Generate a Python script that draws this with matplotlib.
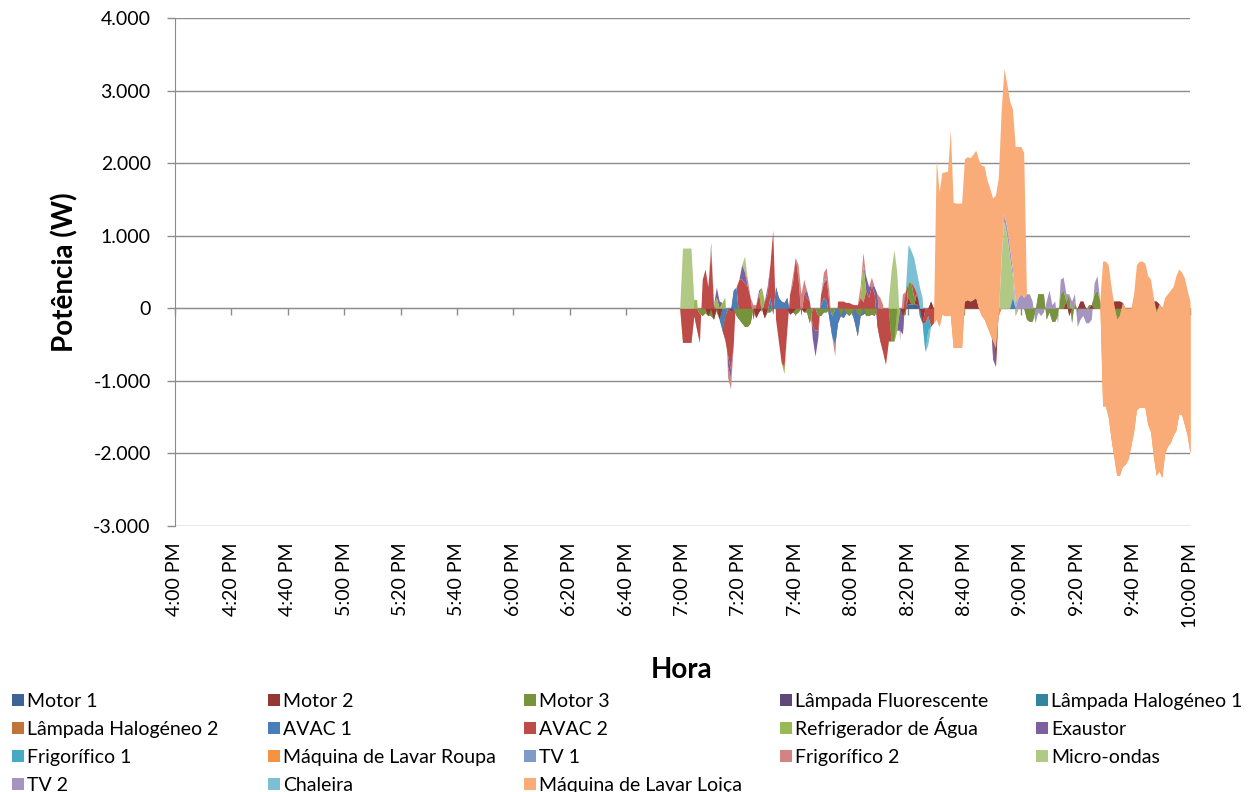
import numpy as np
import matplotlib.pyplot as plt
from matplotlib.patches import Rectangle
from matplotlib.ticker import FuncFormatter

plt.rcParams['font.family'] = ['Lato', 'DejaVu Sans']

# series names (stacking order) and Excel colours
nomes = ['Motor 1', 'Motor 2', 'Motor 3', 'Lâmpada Fluorescente', 'Lâmpada Halogéneo 1',
         'Lâmpada Halogéneo 2', 'AVAC 1', 'AVAC 2', 'Refrigerador de Água', 'Exaustor',
         'Frigorífico 1', 'Máquina de Lavar Roupa', 'TV 1', 'Frigorífico 2', 'Micro-ondas',
         'TV 2', 'Chaleira', 'Máquina de Lavar Loiça']
cores = ['#3C6496', '#953735', '#77933C', '#5F497A', '#31859C', '#C0743A',
         '#4A7EBB', '#BE4B48', '#98B954', '#7D60A0', '#46AAC5', '#F69240',
         '#7E9BC8', '#D38482', '#B0CA86', '#A594C0', '#7DBFD5', '#F9AC78']

# x axis: minutes since 4:00 PM, one point per minute
minutos = np.arange(0, 361)
inicio = 180  # 7:00 PM, nothing happens before this
ticks_x = list(range(0, 361, 20))
rotulos_x = ['4:00 PM', '4:20 PM', '4:40 PM', '5:00 PM', '5:20 PM', '5:40 PM', '6:00 PM',
             '6:20 PM', '6:40 PM', '7:00 PM', '7:20 PM', '7:40 PM', '8:00 PM', '8:20 PM',
             '8:40 PM', '9:00 PM', '9:20 PM', '9:40 PM', '10:00 PM']

# values in W, keyed by minutes after 7:00 PM (missing minutes are 0)
motor_1 = {80: 60, 81: 60, 82: 50, 83: 60}
motor_2 = {9: -100, 11: -150, 13: -150, 26: -130, 27: -50, 29: -130, 38: -80, 39: -50,
           43: -50, 78: -100, 80: 100, 83: 150, 85: -200, 88: 100,
           100: 100, 101: 120, 102: 100, 103: 120, 104: 150, 111: -800,
           136: 100, 137: -100, 141: 100, 142: 100, 145: 50,
           153: 100, 154: 100, 155: 100, 156: 80, 166: 100, 167: 100, 168: 100, 169: 60}
motor_3 = {6: -70, 7: -100, 8: -60, 10: -100, 19: -100, 20: -150, 21: -200, 22: -250,
           23: -250, 24: -200, 30: -50, 31: -50, 40: -80, 41: -50, 44: -50, 45: -200,
           48: -100, 49: -100, 50: -50, 51: -50, 53: -100, 56: -100, 58: -60, 59: -100,
           60: -50, 62: -80, 63: -100, 65: -100, 66: -100, 67: -80, 68: -100, 74: -450,
           75: -450, 79: -80, 80: 200, 81: 300, 82: 100,
           122: -150, 123: -180, 124: -180, 125: -50, 126: 200, 127: 200, 128: 200,
           129: -150, 130: -50, 131: -180, 132: -180, 133: -100, 134: 200, 135: 250,
           137: 300, 138: -200, 139: 100, 140: -50, 143: -30, 144: 50, 146: 200, 147: 250,
           148: 100, 153: -100, 154: -250, 155: -200, 167: -150, 168: -200}
lampada_fluor = {17: -40, 65: 40}
lampada_hal_1 = {}
lampada_hal_2 = {}
avac_1 = {14: -300, 15: -100, 18: 250, 19: 390, 31: 200, 32: -80, 33: 300, 34: 150,
          35: 100, 36: 80, 37: 150, 49: 150, 50: 200, 51: 150, 52: -150, 53: -300,
          54: -500, 55: -200, 57: -130, 61: -200, 62: -300, 64: -80, 84: -100,
          117: 150, 130: 50}
avac_2 = {0: -470, 1: -470, 2: -470, 3: -470, 4: -100, 5: -290, 6: -400, 7: 500, 8: 600,
          9: 400, 10: 900, 11: 200, 12: -50, 15: -330, 16: -650, 17: -800, 18: -750,
          20: 550, 21: 600, 22: 600, 23: 550, 24: 350, 25: -150, 26: 180, 27: 250, 28: -50,
          29: 230, 30: 250, 31: 450, 32: 1160, 33: -450, 34: -600, 35: -850, 36: -880,
          37: -450, 38: 280, 39: 400, 40: 780, 41: 450, 42: -100, 43: 250, 44: 200,
          45: 300, 46: -250, 47: -300, 48: -200, 49: 150, 50: 200, 51: 300, 52: 200,
          55: 300, 56: 200, 57: 230, 58: 140, 59: 180, 60: 110, 61: 250, 62: 430, 63: 250,
          64: 170, 65: 300, 66: 250, 67: 400, 68: 300, 69: -250, 70: -450, 71: -600,
          72: -770, 73: -450, 79: 310, 82: 150, 86: -200, 87: -100, 88: -350, 89: -200}
refrigerador = {4: 224, 5: 410, 10: 60, 12: 200, 13: 150, 14: 380, 15: 580, 28: 340,
                36: -100, 64: 500, 76: -300}
exaustor = {10: 50, 12: 140, 13: 100, 16: -150, 17: -120, 21: 200, 22: 150, 27: 50,
            30: 90, 44: 100, 46: -150, 47: -360, 48: -100, 65: 200, 66: 150, 68: 100,
            69: 450, 77: -300, 78: -250, 110: -700}
frigorifico_1 = {86: -400, 87: -200}
# hidden under the dishwasher layer, sets where its band starts
maq_roupa = {90: -150, 91: -250, 92: -80, 93: -100, 94: -100, 95: -100, 96: -540,
             97: -540, 98: -540, 99: -540, 106: -100, 107: -150, 108: -250, 109: -350,
             110: 250, 111: 250, 112: -100,
             149: -1345, 150: -1345, 151: -1500, 152: -1800, 153: -2050, 154: -2150,
             155: -2200, 156: -2260, 157: -2150, 158: -2080, 159: -1900, 160: -1700,
             161: -1400, 162: -1365, 163: -1365, 164: -1365, 165: -1600, 166: -1800,
             167: -1985, 168: -2200, 169: -2300, 170: -2330, 171: -2000, 172: -1900,
             173: -1850, 174: -1750, 175: -1680, 176: -1460, 177: -1460, 178: -1600,
             179: -1750, 180: -2000}
tv_1 = {50: 50}
frigorifico_2 = {16: -150, 17: -150, 23: 100, 25: 200, 39: 100, 41: 200, 42: 300, 43: 200,
                 50: 100, 51: 160, 52: 150, 54: -160, 63: 150, 64: 180, 67: 110, 70: 600,
                 71: 650, 78: 550}
micro_ondas = {0: 1300, 1: 1300, 2: 1300, 3: 1300, 22: 220, 73: 550, 74: 980, 75: 1260,
               76: 800, 113: 650, 114: 1200, 115: 1000, 116: 700, 117: 300, 118: -100}
tv_2 = {77: -150, 113: 50, 114: 100, 115: 120, 116: 150, 117: 100, 118: 100, 119: 150,
        120: 200, 121: 150, 122: 350, 123: 380, 124: 280, 125: -150, 126: -250, 127: -300,
        128: -250, 129: 250, 130: 250, 131: 230, 132: 280, 133: -100, 134: 200, 135: 180,
        136: 100, 138: 300, 139: 100, 140: -200, 141: -250, 142: -200, 143: -170,
        144: -250, 145: -200, 146: 150, 147: 200}
chaleira = {80: 520, 81: 440, 82: 400, 83: 290, 84: 400, 85: 350, 87: -200, 118: 100}
maq_loica = {90: 2200, 91: 1850, 92: 1950, 93: 1980, 94: 1990, 95: 2560, 96: 2000,
             97: 1990, 98: 1990, 99: 1990, 100: 1960, 101: 1970, 102: 1975, 103: 2000,
             104: 2030, 105: 2050, 106: 2070, 107: 2110, 108: 2020, 109: 2000, 110: 1970,
             111: 2110, 112: 1900, 113: 2000, 114: 2000, 115: 1980, 116: 2010, 117: 2200,
             118: 2130, 119: 2080, 120: 2030, 121: 2000,
             149: 1995, 150: 1995, 151: 2100, 152: 2100, 153: 2100, 154: 2150, 155: 2200,
             156: 2260, 157: 2150, 158: 2080, 159: 1900, 160: 1900, 161: 2000, 162: 2015,
             163: 2015, 164: 1985, 165: 2050, 166: 2100, 167: 2185, 168: 2250, 169: 2300,
             170: 2330, 171: 2150, 172: 2100, 173: 2100, 174: 2050, 175: 2130, 176: 2000,
             177: 1960, 178: 2020, 179: 2000, 180: 2100}

series = [motor_1, motor_2, motor_3, lampada_fluor, lampada_hal_1, lampada_hal_2, avac_1,
          avac_2, refrigerador, exaustor, frigorifico_1, maq_roupa, tv_1, frigorifico_2,
          micro_ondas, tv_2, chaleira, maq_loica]

valores = np.zeros((len(series), len(minutos)))
for i, s in enumerate(series):
    for m, v in s.items():
        valores[i, inicio + m] = v

# stacked area, like the Excel chart
topo = np.cumsum(valores, axis=0)
base = np.vstack([np.zeros(len(minutos)), topo[:-1]])

W, H = 1258, 792
fig = plt.figure(figsize=(W / 100, H / 100), dpi=100)
ax = fig.add_axes([175 / W, 1 - 526 / H, 1015 / W, 508 / H])

ordem = list(range(len(series) - 2, -1, -1)) + [len(series) - 1]
for i in ordem:
    ax.fill_between(minutos, base[i], topo[i], color=cores[i], lw=0, zorder=2)

cinza = '#8C8C8C'
ax.set_xlim(0, 360)
ax.set_ylim(-3000, 4000)
ax.set_yticks(range(-3000, 4001, 1000))
ax.yaxis.set_major_formatter(FuncFormatter(lambda v, p: f'{v:,.0f}'.replace(',', '.')))
ax.grid(axis='y', color=cinza, lw=1.0, zorder=1)
ax.set_axisbelow(True)

for lado in ['top', 'right']:
    ax.spines[lado].set_visible(False)
ax.spines['left'].set_color(cinza)
ax.spines['bottom'].set_position(('data', 0))
ax.spines['bottom'].set_color(cinza)
ax.spines['bottom'].set_zorder(1)
ax.tick_params(axis='y', colors=cinza, length=5.5, width=1, labelsize=14,
               labelcolor='black', pad=12)
ax.set_xticks(ticks_x)
ax.tick_params(axis='x', colors=cinza, length=5, width=1, labelbottom=False)

sec = ax.secondary_xaxis('bottom')
sec.set_xticks(ticks_x)
sec.set_xticklabels(rotulos_x, rotation=90, fontsize=14)
sec.tick_params(length=0, pad=12)
sec.spines['bottom'].set_visible(False)

fig.text(65 / W, 1 - 272 / H, 'Potência (W)', rotation=90, fontsize=20,
         fontweight='bold', ha='center', va='center')
fig.text(682 / W, 1 - 670 / H, 'Hora', fontsize=20, fontweight='bold',
         ha='center', va='center')

# legend: 5 columns x 4 rows, filled row by row like Excel
for i, nome in enumerate(nomes):
    lin, col = divmod(i, 5)
    x0 = 12 + 256 * col
    yc = 700 + 28 * lin
    fig.add_artist(Rectangle((x0 / W, 1 - (yc + 6) / H), 12 / W, 12 / H,
                             transform=fig.transFigure, facecolor=cores[i], lw=0))
    fig.text((x0 + 15) / W, 1 - (yc + 7) / H, nome, fontsize=14, va='baseline')

fig.savefig('out.png', dpi=100)
